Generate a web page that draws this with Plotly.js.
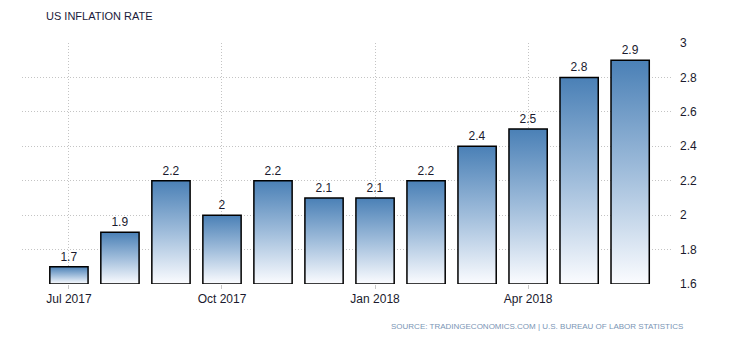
<!DOCTYPE html>
<html>
<head>
<meta charset="utf-8">
<script src="https://cdn.plot.ly/plotly-3.0.1.min.js"></script>
<style>html,body{margin:0;padding:0;background:#fff;}#chart{width:730px;height:340px;}</style>
</head>
<body>
<div id="chart"></div>
<script>
const months = ["Jul 2017","Aug 2017","Sep 2017","Oct 2017","Nov 2017","Dec 2017","Jan 2018","Feb 2018","Mar 2018","Apr 2018","May 2018","Jun 2018"];
const inflation = [1.7, 1.9, 2.2, 2.0, 2.2, 2.1, 2.1, 2.2, 2.4, 2.5, 2.8, 2.9];
const yTicks = [1.6, 1.8, 2.0, 2.2, 2.4, 2.6, 2.8, 3.0];
const xTickLabels = ["Jul 2017", "Oct 2017", "Jan 2018", "Apr 2018"];
const BASE = 1.6;

const xIdx = months.map((m, i) => i);
const xTickVals = xTickLabels.map(l => months.indexOf(l));

const trace = {
  type: 'bar',
  x: xIdx,
  y: inflation.map(v => v - BASE),
  base: BASE,
  text: inflation.map(v => String(v)),
  textposition: 'outside',
  cliponaxis: false,
  textfont: {family: 'Liberation Sans, Arial, sans-serif', size: 12, color: '#1a1a2e'},
  marker: {color: '#8fb0d2', line: {color: '#000', width: 1.5}},
  hoverinfo: 'none'
};

const layout = {
  width: 730, height: 340,
  margin: {l: 22, r: 57, t: 43, b: 56},
  paper_bgcolor: '#fff', plot_bgcolor: '#fff',
  bargap: 0.25,
  showlegend: false,
  font: {family: 'Liberation Sans, Arial, sans-serif', size: 12, color: '#1a1a2e'},
  xaxis: {
    range: [-0.92, 11.84],
    tickmode: 'array', tickvals: xTickVals, ticktext: xTickLabels,
    showgrid: true, gridcolor: '#c4c4c4', griddash: '1px,2px', gridwidth: 1,
    ticks: 'outside', ticklen: 4, tickcolor: '#c8c8c8',
    showline: false, zeroline: false,
    tickfont: {size: 12, color: '#1a1a2e'}
  },
  yaxis: {
    range: [1.6, 3.0],
    side: 'right',
    tickmode: 'array', tickvals: yTicks, ticktext: yTicks.map(v => String(v)),
    showgrid: true, gridcolor: '#c4c4c4', griddash: '1px,2px', gridwidth: 1,
    zeroline: false, showline: false, ticks: '',
    ticklabelstandoff: 6,
    tickfont: {size: 12, color: '#1a1a2e'}
  },
  annotations: [
    {text: 'US INFLATION RATE', xref: 'paper', yref: 'paper', x: -0.0, xshift: 22, y: 1, yshift: 27,
     xanchor: 'left', yanchor: 'middle', showarrow: false,
     font: {family: 'Liberation Sans, Arial, sans-serif', size: 11, color: '#1a1a3a'}},
    {text: 'SOURCE: TRADINGECONOMICS.COM | U.S. BUREAU OF LABOR STATISTICS', xref: 'paper', yref: 'paper',
     x: 1, xshift: 12, y: 0, yshift: -42, xanchor: 'right', yanchor: 'middle', showarrow: false,
     font: {family: 'Liberation Sans, Arial, sans-serif', size: 8, color: '#7a95b5'}}
  ]
};

Plotly.newPlot('chart', [trace], layout, {staticPlot: true, displayModeBar: false}).then(function(gd) {
  const svg = gd.querySelector('svg.main-svg');
  const ns = 'http://www.w3.org/2000/svg';
  let defs = svg.querySelector('defs');
  if (!defs) { defs = document.createElementNS(ns, 'defs'); svg.insertBefore(defs, svg.firstChild); }
  const grad = document.createElementNS(ns, 'linearGradient');
  grad.setAttribute('id', 'barGrad');
  grad.setAttribute('x1', '0'); grad.setAttribute('y1', '0');
  grad.setAttribute('x2', '0'); grad.setAttribute('y2', '1');
  [['0', '#4a80b6'], ['0.5', '#a0bddb'], ['1', '#fbfcff']].forEach(function(s) {
    const st = document.createElementNS(ns, 'stop');
    st.setAttribute('offset', s[0]); st.setAttribute('stop-color', s[1]);
    grad.appendChild(st);
  });
  defs.appendChild(grad);
  gd.querySelectorAll('.barlayer .point path').forEach(function(p) {
    p.style.fill = 'url(#barGrad)';
  });
});
</script>
</body>
</html>
